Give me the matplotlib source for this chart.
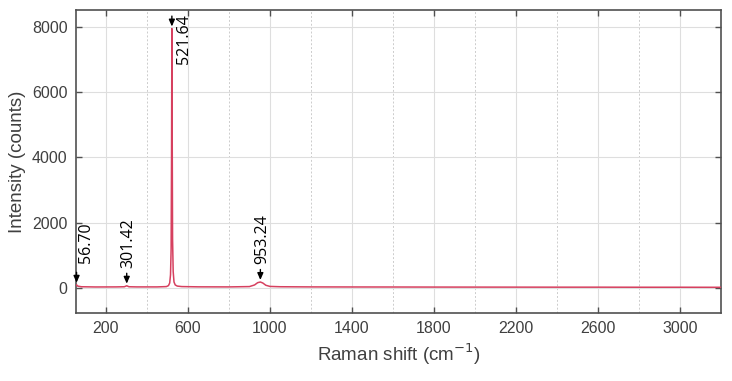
import numpy as np
import matplotlib
matplotlib.use("Agg")
import matplotlib.pyplot as plt
from matplotlib.ticker import FixedLocator

# spectrum (Raman shift in cm^-1, intensity in counts)
shift = [54, 56.7, 62, 80, 150, 250, 290, 301.42, 312, 350, 450, 495, 505,
         511, 515, 518, 520, 521.64, 523.5, 525, 528, 532, 538, 548, 570,
         650, 800, 900, 925, 940, 953.24, 965, 980, 1000, 1050, 1200, 1400,
         1600, 1800, 2000, 2200, 2400, 2600, 2800, 3000, 3200]
intensity = [90, 95, 55, 35, 28, 30, 35, 65, 35, 30, 30, 40, 70,
             150, 400, 1200, 4000, 7950, 4200, 1500, 500, 180, 90, 55, 40,
             32, 30, 40, 90, 160, 180, 150, 80, 45, 35, 30, 28,
             27, 25, 24, 23, 22, 22, 20, 20, 18]

peak_x = [56.70, 301.42, 521.64, 953.24]
peak_y = [95, 65, 7950, 180]
peak_labels = ["56.70", "301.42", "521.64", "953.24"]

x_ticks = [200, 600, 1000, 1400, 1800, 2200, 2600, 3000]
x_minor = [400, 800, 1200, 1600, 2000, 2400, 2800]
y_ticks = [0, 2000, 4000, 6000, 8000]

plt.rcParams['font.family'] = ['Liberation Sans', 'DejaVu Sans']

fig = plt.figure(figsize=(7.32, 3.81), dpi=100)
ax = fig.add_axes([76 / 732, 1 - 313 / 381, 645 / 732, 303 / 381])

ax.plot(shift, intensity, color='#d6405f', lw=1.1, zorder=3)

ax.set_xlim(54, 3200)
ax.set_ylim(-770, 8520)
ax.xaxis.set_major_locator(FixedLocator(x_ticks))
ax.xaxis.set_minor_locator(FixedLocator(x_minor))
ax.yaxis.set_major_locator(FixedLocator(y_ticks))

ax.grid(True, which='major', color='#dedede', lw=0.8, zorder=0)
ax.grid(True, which='minor', axis='x', color='#cccccc', lw=0.7,
        ls=(0, (2, 2)), zorder=0)

for s in ax.spines.values():
    s.set_color('#505050')
    s.set_linewidth(1.2)
ax.tick_params(which='major', direction='in', length=4.5, width=1,
               color='#505050', top=True, right=True,
               labelsize=11.5, labelcolor='#404040', pad=6)
ax.tick_params(which='minor', length=0)

ax.set_xlabel('Raman shift (cm$^{-1}$)', fontsize=13.5, color='#404040',
              labelpad=4)
ax.set_ylabel('Intensity (counts)', fontsize=13.5, color='#404040',
              labelpad=4)

# arrows and rotated labels (text offsets in points from arrow tail)
arrow_len = 9
text_off = {"56.70": (7, 7, 'bottom'), "301.42": (1, 4, 'bottom'),
            "521.64": (9, 1, 'top'), "953.24": (1, 4, 'bottom')}
for x, y, lab in zip(peak_x, peak_y, peak_labels):
    ax.annotate('', xy=(x, y), xytext=(0, arrow_len),
                textcoords='offset points',
                xycoords='data',
                arrowprops=dict(arrowstyle='-|>,head_length=0.5,head_width=0.22',
                                color='k', lw=1.0,
                                mutation_scale=8, shrinkA=0, shrinkB=1.5),
                annotation_clip=False, zorder=4)
    dx, dy, va = text_off[lab]
    ax.annotate(lab, xy=(x, y), xytext=(dx, arrow_len + dy),
                textcoords='offset points', rotation=90,
                ha='center', va=va, fontsize=11.5, color='k',
                family=['Open Sans', 'DejaVu Sans'],
                annotation_clip=False, zorder=4)

fig.savefig('out.png', dpi=100)
